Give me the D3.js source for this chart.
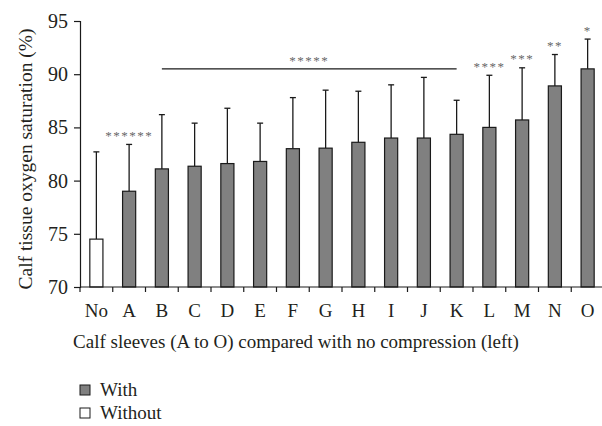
<!DOCTYPE html>
<html lang="en">
<head>
<meta charset="utf-8">
<script src="https://cdn.jsdelivr.net/npm/d3@7"></script>
<style>
    body { margin: 0; background: #fff; }
    svg text { font-family: "Liberation Serif", "DejaVu Serif", serif; fill: #231f20; }
</style>
</head>
<body>
<script>
    // data
    const categories = ["No", "A", "B", "C", "D", "E", "F", "G", "H", "I", "J", "K", "L", "M", "N", "O"];
    const means      = [74.5, 79.0, 81.1, 81.35, 81.6, 81.8, 83.0, 83.05, 83.6, 84.0, 84.0, 84.35, 85.0, 85.7, 88.9, 90.5];
    const upper      = [82.7, 83.4, 86.2, 85.4, 86.8, 85.4, 87.8, 88.5, 88.4, 89.0, 89.7, 87.55, 89.9, 90.6, 91.85, 93.3];
    const groups     = ["Without", "With", "With", "With", "With", "With", "With", "With", "With", "With", "With", "With", "With", "With", "With", "With"];
    const stars      = [{cat: "A", s: "******"}, {cat: "L", s: "****"}, {cat: "M", s: "***"}, {cat: "N", s: "**"}, {cat: "O", s: "*"}];
    const bracket    = {from: "B", to: "K", s: "*****", y: 90.5};
    const yTicks     = [70, 75, 80, 85, 90, 95];
    const legendItems = ["With", "Without"];

    const w = 602, h = 426;
    const mLeft = 80, mRight = 604, mTop = 21, mBottom = 287;

    const svg = d3.select("body").append("svg")
        .attr("width", w)
        .attr("height", h);

    const x = d3.scaleBand().domain(categories).range([mLeft, mRight]).paddingInner(0.6).paddingOuter(0.3);
    const step = x.step();
    const y = d3.scaleLinear().domain([70, 95]).range([mBottom, mTop]);
    const fill = d3.scaleOrdinal().domain(["With", "Without"]).range(["#808080", "#ffffff"]);

    const cx = (c) => x(c) + x.bandwidth() / 2;

    // error bars (upper only)
    svg.append("g").selectAll("line")
        .data(categories)
        .join("line")
        .attr("x1", cx).attr("x2", cx)
        .attr("y1", (d, i) => y(means[i]))
        .attr("y2", (d, i) => y(upper[i]))
        .attr("stroke", "#1a1a1a").attr("stroke-width", 1.3);
    svg.append("g").selectAll("line")
        .data(categories)
        .join("line")
        .attr("x1", (d) => cx(d) - 3).attr("x2", (d) => cx(d) + 3)
        .attr("y1", (d, i) => y(upper[i]))
        .attr("y2", (d, i) => y(upper[i]))
        .attr("stroke", "#1a1a1a").attr("stroke-width", 1.3);

    // bars
    svg.append("g").selectAll("rect")
        .data(categories)
        .join("rect")
        .attr("x", (d) => x(d))
        .attr("y", (d, i) => y(means[i]))
        .attr("width", x.bandwidth())
        .attr("height", (d, i) => mBottom - y(means[i]))
        .attr("fill", (d, i) => fill(groups[i]))
        .attr("stroke", "#1a1a1a").attr("stroke-width", 1.2);

    // y axis
    const yAxis = d3.axisLeft(y).tickValues(yTicks).tickSize(6).tickPadding(6);
    const gy = svg.append("g").attr("transform", "translate(" + mLeft + ",0)").call(yAxis);
    gy.select(".domain").attr("stroke", "#1a1a1a").attr("stroke-width", 1.2);
    gy.selectAll(".tick line").attr("stroke", "#1a1a1a").attr("stroke-width", 1.2);
    gy.selectAll(".tick text").attr("font-size", "20px").attr("font-family", "Liberation Serif").attr("fill", "#231f20");

    // x axis: ticks at band boundaries, labels at band centers
    const gx = svg.append("g");
    gx.append("line")
        .attr("x1", mLeft).attr("x2", mRight)
        .attr("y1", mBottom).attr("y2", mBottom)
        .attr("stroke", "#1a1a1a").attr("stroke-width", 1.2);
    gx.selectAll(".xt")
        .data(categories)
        .join("line")
        .attr("class", "xt")
        .attr("x1", (d) => x(d) - step * 0.3).attr("x2", (d) => x(d) - step * 0.3)
        .attr("y1", mBottom).attr("y2", mBottom + 5)
        .attr("stroke", "#1a1a1a").attr("stroke-width", 1.2);
    gx.selectAll("text")
        .data(categories)
        .join("text")
        .attr("x", cx)
        .attr("y", 317)
        .attr("text-anchor", "middle")
        .attr("font-size", "19px")
        .text((d) => d);

    // axis titles
    svg.append("text")
        .attr("x", 296).attr("y", 348)
        .attr("text-anchor", "middle")
        .attr("font-size", "19px")
        .text("Calf sleeves (A to O) compared with no compression (left)");
    svg.append("text")
        .attr("transform", "translate(32,159) rotate(-90)")
        .attr("text-anchor", "middle")
        .attr("font-size", "19.5px")
        .text("Calf tissue oxygen saturation (%)");

    // significance marks (grey asterisks)
    const starG = svg.append("g").attr("opacity", 0.99);
    starG.selectAll("text")
        .data(stars)
        .join("text")
        .attr("x", (d) => cx(d.cat))
        .attr("y", (d) => y(upper[categories.indexOf(d.cat)]) - 9)
        .attr("dominant-baseline", "central")
        .attr("text-anchor", "middle")
        .attr("font-size", "13px")
        .attr("font-family", "DejaVu Sans")
        .attr("letter-spacing", "1.5px")
        .style("fill", "#666")
        .text((d) => d.s);

    svg.append("line")
        .attr("x1", cx(bracket.from)).attr("x2", cx(bracket.to))
        .attr("y1", y(bracket.y)).attr("y2", y(bracket.y))
        .attr("stroke", "#1a1a1a").attr("stroke-width", 1.3);
    starG.append("text")
        .attr("x", (cx(bracket.from) + cx(bracket.to)) / 2)
        .attr("y", y(bracket.y) - 8)
        .attr("dominant-baseline", "central")
        .attr("text-anchor", "middle")
        .attr("font-size", "13px")
        .attr("font-family", "DejaVu Sans")
        .attr("letter-spacing", "1.5px")
        .style("fill", "#666")
        .text(bracket.s);

    // legend
    const lg = svg.append("g").selectAll("g")
        .data(legendItems)
        .join("g")
        .attr("transform", (d, i) => "translate(80," + (385 + i * 23) + ")");
    lg.append("rect")
        .attr("width", 10).attr("height", 10)
        .attr("fill", (d) => fill(d))
        .attr("stroke", "#1a1a1a").attr("stroke-width", 1);
    lg.append("text")
        .attr("x", 20).attr("y", 11)
        .attr("font-size", "19px")
        .text((d) => d);
</script>
</body>
</html>
